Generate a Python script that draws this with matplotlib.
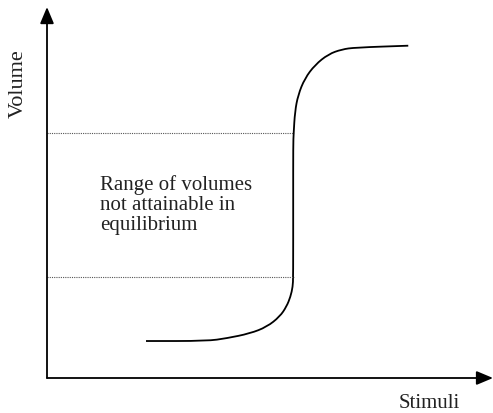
import matplotlib
matplotlib.use("Agg")
import matplotlib.pyplot as plt
from matplotlib.path import Path
from matplotlib.patches import PathPatch

# Curve: stimulus (x) vs volume (y), both in arbitrary 0-100 units
stimulus = [22.2, 35.9, 40.3, 45.5, 49.3, 52.2, 53.7, 54.6, 55.1, 55.2, 55.2,
            55.2, 55.3, 55.6, 56.3, 57.8, 60.1, 63.1, 66.1, 69.1, 81.0]
volume = [10.05, 10.05, 10.8, 12.1, 13.9, 16.7, 19.4, 22.1, 24.8, 27.5, 48.4,
          63.3, 66.5, 72.4, 76.9, 81.4, 85.1, 88.0, 89.3, 89.8, 90.3]

# Bounds of unattainable volumes
v_low = 27.5
v_high = 66.5
x_jump = 55.3

label_text = "Range of volumes\nnot attainable in\nequilibrium"
xlabel = "Stimuli"
ylabel = "Volume"

plt.rcParams['font.family'] = ['Liberation Serif', 'DejaVu Serif']

W, H = 493, 413
fig = plt.figure(figsize=(W / 100, H / 100), dpi=100)
x0, y0 = 47, 378
ax = fig.add_axes([x0 / W, (H - y0) / H, (W - x0) / W, (y0 - 10) / H])
ax.set_xlim(0, 100)
ax.set_ylim(0, 100)
ax.axis('off')

# axes with arrows
for tip in [(0, 1.008), (1.0, 0)]:
    ax.annotate('', xy=tip, xytext=(0, 0), xycoords='axes fraction',
                textcoords='axes fraction',
                arrowprops=dict(arrowstyle='-|>,head_length=1.0,head_width=0.42',
                                lw=1.3, color='black', shrinkA=0, shrinkB=0),
                annotation_clip=False)

# dotted bounds
for v in (v_high, v_low):
    ax.plot([0, x_jump], [v, v], color='#555555', lw=0.8,
            linestyle=(0, (1, 1)), clip_on=False)

# smooth curve drawn through the read points (quadratic path segments)
pts = list(zip(stimulus, volume))
verts = [pts[0]]
codes = [Path.MOVETO]
mid = lambda a, b: ((a[0] + b[0]) / 2, (a[1] + b[1]) / 2)
verts.append(mid(pts[0], pts[1])); codes.append(Path.LINETO)
for i in range(1, len(pts) - 1):
    verts += [pts[i], mid(pts[i], pts[i + 1])]
    codes += [Path.CURVE3, Path.CURVE3]
verts.append(pts[-1]); codes.append(Path.LINETO)
ax.add_patch(PathPatch(Path(verts, codes), facecolor='none', edgecolor='black',
                       lw=1.3, capstyle='butt', clip_on=False))

ax.text(11.9, 55.1, label_text, fontsize=15, color='#222222',
        ha='left', va='top', linespacing=1.06)

fig.text(429 / W, 1 - 403 / H, xlabel, fontsize=15, color='#222222',
         ha='center', va='center')
fig.text(18 / W, 1 - 84 / H, ylabel, fontsize=16, color='#222222',
         ha='center', va='center', rotation=90)

fig.savefig('out.png', dpi=100)
